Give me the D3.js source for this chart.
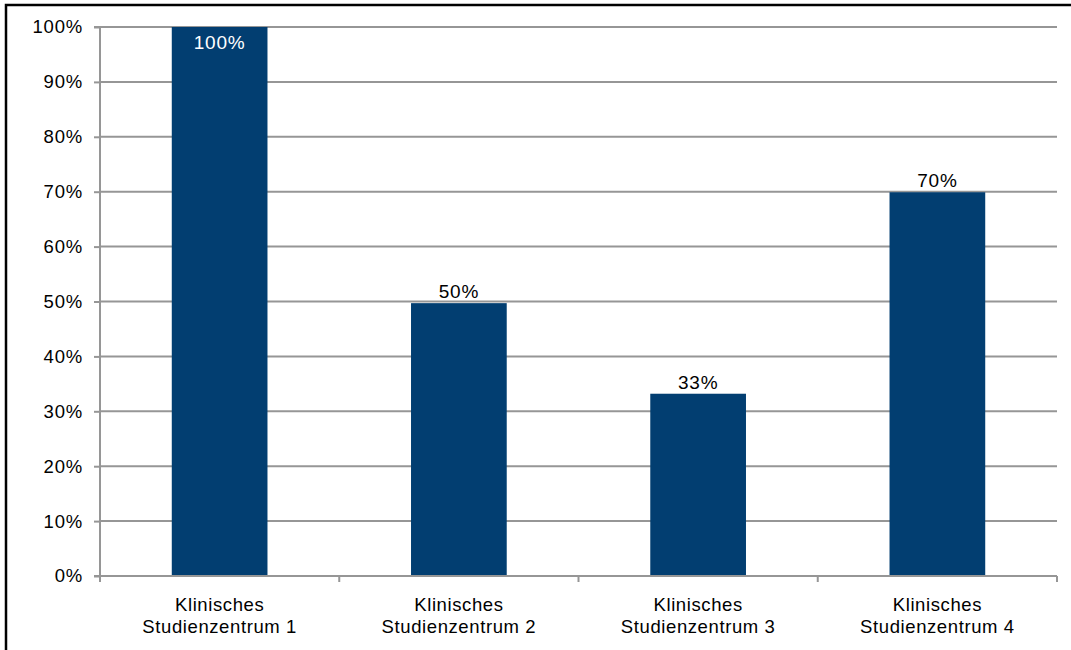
<!DOCTYPE html>
<html><head><meta charset="utf-8">
<script src="https://cdn.jsdelivr.net/npm/d3@7"></script>
<style>body{margin:0;background:#fff}svg{display:block}text{font-family:"Liberation Sans",Arial,sans-serif}</style>
</head><body>
<svg id="c" width="1071" height="650"></svg>
<script>
const categories = [["Klinisches","Studienzentrum 1"],["Klinisches","Studienzentrum 2"],["Klinisches","Studienzentrum 3"],["Klinisches","Studienzentrum 4"]];
const values = [100, 49.7, 33.2, 69.9];
const valueLabels = ["100%","50%","33%","70%"];
const yTicks = [0,10,20,30,40,50,60,70,80,90,100];

const svg = d3.select("#c");
const W = 1071, H = 650;
const m = {left:100, right:1057, top:27, bottom:576};
const gray = "#969696";
const barColor = "#023e71";

svg.append("rect").attr("x",6).attr("y",5).attr("width",W+10).attr("height",H+10)
  .attr("fill","#fff").attr("stroke","#000").attr("stroke-width",2.5);

const x = d3.scaleBand().domain(d3.range(categories.length)).range([m.left,m.right]).paddingInner(0).paddingOuter(0);
const y = d3.scaleLinear().domain([0,100]).range([m.bottom,m.top]);

// gridlines
svg.append("g").selectAll("line").data(yTicks.filter(d=>d>0)).join("line")
  .attr("x1",m.left).attr("x2",m.right).attr("y1",d=>y(d)).attr("y2",d=>y(d))
  .attr("stroke",gray).attr("stroke-width",2);

// y axis
const ya = svg.append("g").attr("transform",`translate(${m.left},0)`)
  .call(d3.axisLeft(y).tickValues(yTicks).tickFormat(d=>d+"%").tickSize(6).tickPadding(11));
ya.select(".domain").attr("stroke",gray).attr("stroke-width",2).attr("d",`M-6,${m.top}H0V${m.bottom}H-6`);
ya.selectAll(".tick line").attr("stroke",gray).attr("stroke-width",2);
ya.selectAll(".tick text").attr("font-size",18.5).attr("fill","#000").attr("letter-spacing","0.8px").attr("font-family","Liberation Sans, Arial, sans-serif");

// bars
const bw = x.bandwidth()*0.4;
svg.append("g").selectAll("rect").data(values).join("rect")
  .attr("x",(d,i)=>x(i)+x.bandwidth()/2-bw/2).attr("width",bw)
  .attr("y",d=>y(d)).attr("height",d=>y(0)-y(d)).attr("fill",barColor);

// x axis
svg.append("line").attr("x1",m.left).attr("x2",m.right).attr("y1",m.bottom).attr("y2",m.bottom)
  .attr("stroke",gray).attr("stroke-width",2);
const bounds = d3.range(categories.length+1).map(i=> i<categories.length ? x(i) : m.right);
svg.append("g").selectAll("line").data(bounds).join("line")
  .attr("x1",d=>d).attr("x2",d=>d).attr("y1",m.bottom).attr("y2",m.bottom+6)
  .attr("stroke",gray).attr("stroke-width",2);

const xl = svg.append("g").selectAll("text").data(categories).join("text")
  .attr("text-anchor","middle").attr("font-size",18.5).attr("fill","#000").attr("letter-spacing","0.6px")
  .attr("transform",(d,i)=>`translate(${x(i)+x.bandwidth()/2},611)`);
xl.selectAll("tspan").data(d=>d).join("tspan").attr("x",0).attr("dy",(d,j)=>j===0?0:22).text(d=>d);

// value labels
svg.append("g").selectAll("text").data(values).join("text")
  .attr("text-anchor","middle").attr("font-size",19).attr("letter-spacing","0.8px")
  .attr("x",(d,i)=>x(i)+x.bandwidth()/2)
  .attr("y",d=> d>=95 ? y(d)+22 : y(d)-5)
  .attr("fill",d=> d>=95 ? "#fff" : "#000")
  .text((d,i)=>valueLabels[i]);
</script>
</body></html>
